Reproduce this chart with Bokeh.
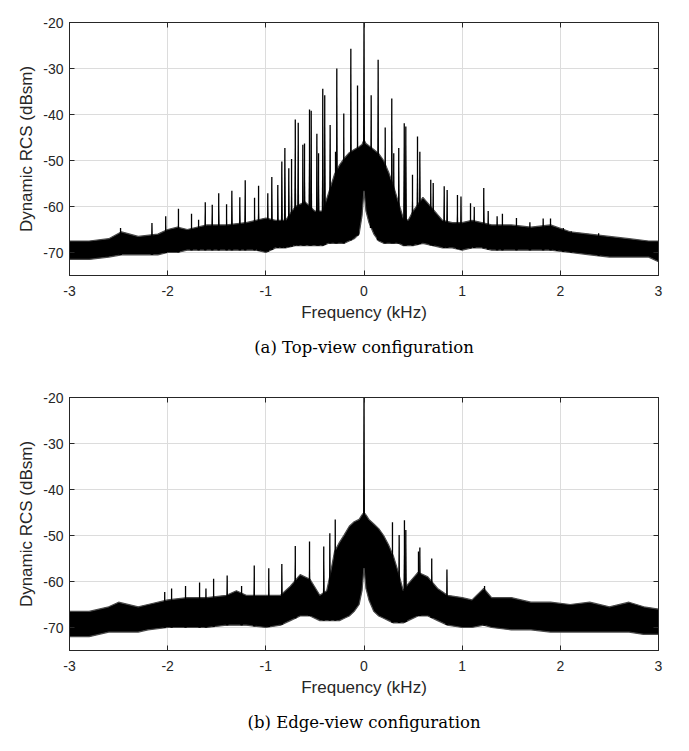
import numpy as np
from bokeh.plotting import figure
from bokeh.layouts import column
from bokeh.models import LinearAxis, FixedTicker, Range1d
from bokeh.embed import file_html
from bokeh.resources import INLINE

# ---------------- data ----------------
X_TICKS = [-3, -2, -1, 0, 1, 2, 3]
Y_TICKS = [-70, -60, -50, -40, -30, -20]
X_TICK_LABELS = ["-3", "-2", "-1", "0", "1", "2", "3"]
Y_TICK_LABELS = ["-70", "-60", "-50", "-40", "-30", "-20"]

# (a) Top-view: noise band (upper / lower envelope)
F_A = [-3.0, -2.8, -2.6, -2.47, -2.3, -2.1, -2.0, -1.9, -1.8, -1.6, -1.4, -1.2, -1.1,
       -1.0, -0.9, -0.8, -0.7, -0.6, -0.5, -0.42, -0.36, -0.3, -0.25, -0.2, -0.15,
       -0.1, -0.05, -0.02, 0.0, 0.02, 0.05, 0.1, 0.15, 0.2, 0.25, 0.3, 0.35, 0.4,
       0.45, 0.5, 0.6, 0.7, 0.8, 0.9, 1.0, 1.1, 1.2, 1.3, 1.5, 1.7, 1.9, 2.1, 2.3,
       2.5, 2.7, 2.9, 3.0]
U_A = [-67.5, -67.5, -67.0, -65.5, -66.5, -66.0, -65.0, -64.5, -65.0, -64.0, -64.0,
       -63.5, -63.0, -62.5, -63.0, -63.0, -60.0, -59.0, -61.0, -61.0, -57.0, -53.0,
       -51.0, -49.5, -48.3, -47.6, -47.0, -46.5, -45.5, -46.3, -46.8, -47.6, -48.5,
       -50.0, -52.5, -55.5, -59.0, -62.5, -63.0, -61.0, -58.0, -60.5, -63.0, -63.5,
       -63.5, -63.0, -63.5, -64.0, -64.0, -64.5, -64.0, -65.5, -66.0, -66.5, -67.0,
       -67.5, -67.5]
L_A = [-71.5, -71.5, -71.0, -70.5, -70.5, -70.5, -70.0, -70.0, -69.5, -69.5, -69.5,
       -69.5, -69.5, -70.0, -69.0, -69.0, -68.5, -68.5, -68.5, -68.5, -68.0, -68.0,
       -68.0, -68.0, -67.5, -67.0, -66.0, -62.0, -56.5, -61.0, -63.5, -66.0, -67.5,
       -68.0, -68.0, -68.0, -68.0, -68.5, -68.5, -68.5, -68.0, -68.5, -69.0, -69.0,
       -69.5, -69.0, -69.0, -69.5, -69.5, -69.5, -69.5, -70.0, -70.5, -71.0, -71.0,
       -71.0, -72.0]
# (a) spectral lines: frequency (kHz) and peak level (dBsm)
SPIKE_F_A = [-2.48, -2.16, -2.02, -1.89, -1.757, -1.685, -1.617, -1.546, -1.48, -1.40,
             -1.346, -1.265, -1.21, -1.115, -1.074, -0.98, -0.939, -0.878, -0.837,
             -0.806, -0.766, -0.738, -0.70, -0.67, -0.623, -0.606, -0.555, -0.538,
             -0.48, -0.463, -0.42, -0.40, -0.345, -0.29, -0.277, -0.206, -0.134,
             -0.066, 0.0, 0.073, 0.144, 0.216, 0.283, 0.303, 0.354, 0.41, 0.426,
             0.494, 0.545, 0.569, 0.68, 0.705, 0.817, 0.847, 0.952, 0.988, 1.085,
             1.123, 1.22, 1.265, 1.356, 1.41, 1.553, 1.69, 1.825, 1.90, 1.967, 2.03,
             2.11, 2.39]
SPIKE_T_A = [-64.7, -63.6, -62.1, -60.5, -61.6, -62.9, -59.1, -59.6, -57.1, -59.5,
             -56.6, -58.0, -54.3, -58.1, -55.5, -57.1, -53.6, -55.3, -50.2, -47.3,
             -51.7, -49.7, -41.1, -41.8, -46.6, -46.3, -38.9, -39.2, -44.2, -48.4,
             -34.4, -35.8, -42.3, -48.1, -30.0, -39.8, -25.7, -33.7, -20.0, -35.8,
             -28.1, -42.8, -36.5, -48.4, -47.3, -41.9, -42.6, -53.1, -44.8, -48.1,
             -54.2, -54.9, -55.6, -56.4, -57.5, -57.8, -59.3, -60.1, -56.0, -61.0,
             -62.1, -61.6, -62.5, -63.4, -62.6, -62.6, -64.7, -64.7, -65.4, -65.8]

# (b) Edge-view: noise band
F_B = [-3.0, -2.8, -2.6, -2.5, -2.3, -2.2, -2.0, -1.8, -1.6, -1.4, -1.3, -1.2, -1.0,
       -0.85, -0.75, -0.65, -0.55, -0.45, -0.38, -0.34, -0.3, -0.25, -0.2, -0.15,
       -0.1, -0.05, -0.02, 0.0, 0.02, 0.05, 0.1, 0.15, 0.2, 0.25, 0.3, 0.35, 0.4,
       0.45, 0.55, 0.65, 0.75, 0.85, 1.0, 1.1, 1.22, 1.3, 1.5, 1.7, 1.9, 2.1, 2.3,
       2.5, 2.7, 2.85, 3.0]
U_B = [-66.5, -66.5, -65.5, -64.5, -65.5, -65.0, -64.0, -63.5, -63.5, -63.0, -62.0,
       -63.0, -63.0, -63.0, -61.0, -58.5, -59.5, -63.0, -62.0, -58.0, -53.5, -51.5,
       -49.8, -48.0, -47.0, -46.5, -45.5, -45.0, -45.5, -46.5, -47.5, -48.5, -50.0,
       -52.0, -54.5, -58.0, -62.0, -60.5, -58.0, -59.0, -61.5, -63.0, -63.5, -64.0,
       -61.5, -63.5, -63.5, -64.5, -64.5, -65.0, -64.5, -65.5, -64.5, -65.5, -66.0]
L_B = [-72.0, -72.0, -71.0, -71.0, -71.0, -70.5, -70.0, -70.0, -70.0, -69.5, -69.5,
       -69.5, -70.0, -69.5, -68.5, -67.5, -67.5, -68.5, -68.5, -68.5, -68.5, -68.5,
       -68.0, -67.5, -66.5, -65.0, -62.0, -57.0, -61.5, -64.0, -66.5, -67.5, -68.0,
       -68.5, -69.0, -69.0, -69.0, -68.5, -67.5, -67.5, -68.5, -69.5, -70.0, -70.0,
       -69.5, -70.0, -70.5, -70.5, -71.0, -71.0, -71.0, -71.0, -71.0, -71.5, -71.5]
SPIKE_F_B = [-2.03, -1.96, -1.818, -1.675, -1.61, -1.532, -1.394, -1.247, -1.118,
             -0.97, -0.837, -0.70, -0.555, -0.41, -0.348, -0.293, 0.0, 0.29, 0.358,
             0.412, 0.426, 0.555, 0.569, 0.69, 0.845, 1.228]
SPIKE_T_B = [-62.3, -61.5, -61.0, -60.2, -61.5, -59.4, -58.7, -61.0, -56.5, -57.1,
             -56.2, -52.3, -51.3, -52.4, -49.5, -46.5, -20.0, -47.1, -49.9, -46.7,
             -48.8, -53.5, -52.6, -55.0, -57.4, -61.0]

CAPTION_A = "(a) Top-view configuration"
CAPTION_B = "(b) Edge-view configuration"

AX_COLOR = "#262626"
SANS = "Liberation Sans"
SERIF = "DejaVu Serif"
TOOTH_HALF_WIDTH = 0.014  # kHz, half base width of each spectral line's tooth


def make_fig(F, U, L, SF, ST, caption, height, top, bottom, title_standoff):
    p = figure(width=672, height=height, output_backend="svg", toolbar_location=None,
               x_range=Range1d(-3, 3), y_range=Range1d(-75, -20),
               min_border_left=69, min_border_right=14, min_border_top=top,
               min_border_bottom=bottom, x_axis_label="Frequency (kHz)",
               y_axis_label="Dynamic RCS (dBsm)")
    p.background_fill_color = "white"
    p.outline_line_color = AX_COLOR
    p.outline_line_width = 1
    p.xgrid.ticker = FixedTicker(ticks=X_TICKS)
    p.ygrid.ticker = FixedTicker(ticks=Y_TICKS)
    p.grid.grid_line_color = "#dcdcdc"
    p.grid.grid_line_width = 1

    for ax in (p.xaxis[0], p.yaxis[0]):
        ax.major_tick_in = 5
        ax.major_tick_out = 0
        ax.minor_tick_in = 0
        ax.minor_tick_out = 0
        ax.axis_line_color = AX_COLOR
        ax.major_tick_line_color = AX_COLOR
        ax.major_label_text_font = SANS
        ax.major_label_text_font_size = "14px"
        ax.major_label_text_color = AX_COLOR
        ax.axis_label_text_font = SANS
        ax.axis_label_text_font_size = "17px"
        ax.axis_label_text_font_style = "normal"
        ax.axis_label_text_color = AX_COLOR
    p.xaxis[0].ticker = FixedTicker(ticks=X_TICKS)
    p.yaxis[0].ticker = FixedTicker(ticks=Y_TICKS)
    p.xaxis[0].major_label_overrides = {t: s for t, s in zip(X_TICKS, X_TICK_LABELS)}
    p.yaxis[0].major_label_overrides = {t: s for t, s in zip(Y_TICKS, Y_TICK_LABELS)}
    p.xaxis[0].major_label_standoff = 10
    p.yaxis[0].major_label_standoff = 6
    p.xaxis[0].axis_label_standoff = 4
    p.yaxis[0].axis_label_standoff = 4

    for loc, tk in (("above", X_TICKS), ("right", Y_TICKS)):
        ax = LinearAxis(ticker=FixedTicker(ticks=tk), major_tick_in=5, major_tick_out=0,
                        minor_tick_in=0, minor_tick_out=0, axis_line_color=AX_COLOR,
                        major_tick_line_color=AX_COLOR,
                        major_label_overrides={t: "" for t in tk},
                        major_label_standoff=0)
        p.add_layout(ax, loc)

    # noise floor band
    p.varea(x=F, y1=L, y2=U, fill_color="black", fill_alpha=1.0)
    p.line(x=F, y=U, line_color="#4a4a4a", line_width=1.2)
    p.line(x=F, y=L, line_color="#4a4a4a", line_width=1.2)

    # spectral lines: a narrow tooth plus a thin line to the peak
    sf = np.asarray(SF, dtype=float)
    st = np.asarray(ST, dtype=float)
    base = np.interp(sf, F, L)
    xs = [[f - TOOTH_HALF_WIDTH, f, f + TOOTH_HALF_WIDTH] for f in sf]
    ys = [[b, t, b] for b, t in zip(base, st)]
    p.patches(xs=xs, ys=ys, fill_color="black", line_color=None)
    p.segment(x0=sf, y0=base, x1=sf, y1=st, line_color="black", line_width=1.3)

    p.title.text = caption
    p.title_location = "below"
    p.title.align = "center"
    p.title.text_font = SERIF
    p.title.text_font_size = "16.5px"
    p.title.text_font_style = "normal"
    p.title.text_color = "black"
    p.title.standoff = title_standoff
    return p


pa = make_fig(F_A, U_A, L_A, SPIKE_F_A, SPIKE_T_A, CAPTION_A, 370, 22, 95, 23)
pb = make_fig(F_B, U_B, L_B, SPIKE_F_B, SPIKE_T_B, CAPTION_B, 378, 27, 98, 22)

layout = column(pa, pb, spacing=0)
open("out.html", "w").write(file_html(layout, INLINE))
